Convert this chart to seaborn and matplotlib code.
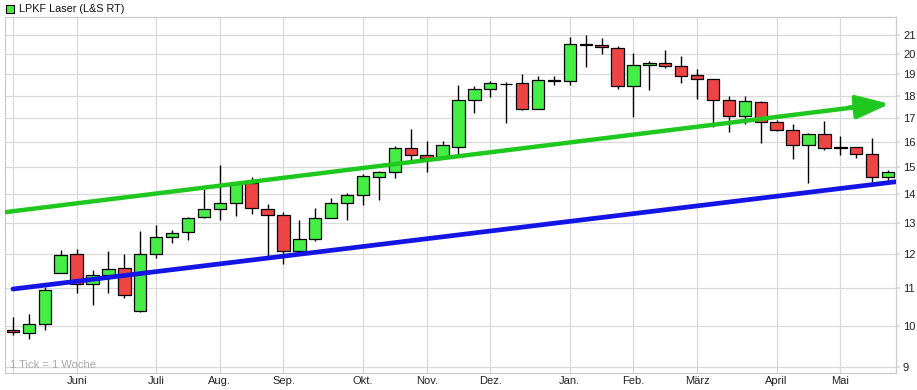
import matplotlib
matplotlib.use('Agg')
import matplotlib.pyplot as plt
import matplotlib.ticker as mticker
import seaborn as sns
import pandas as pd

# weekly OHLC, LPKF Laser (L&S RT)
opens = [9.90, 9.82, 10.05, 11.45, 12.00, 11.12, 11.39, 11.59, 10.37, 12.00,
         12.53, 12.70, 13.20, 13.47, 13.68, 14.41, 13.47, 13.27, 12.10, 12.48,
         13.18, 13.68, 13.95, 14.63, 14.79, 15.74, 15.46, 15.39, 15.80, 17.80,
         18.30, 18.53, 18.58, 17.41, 18.69, 18.67, 20.56, 20.50, 20.30, 18.43,
         19.47, 19.56, 19.42, 18.95, 18.77, 17.80, 17.08, 17.70, 16.82, 16.47,
         15.86, 16.33, 15.77, 15.78, 15.50, 14.63]
highs = [10.21, 10.31, 11.04, 12.14, 12.16, 11.54, 12.09, 12.00, 12.75, 12.94,
         12.78, 13.20, 14.17, 15.06, 14.45, 14.63, 13.64, 13.38, 13.09, 13.50,
         13.84, 14.03, 14.72, 14.83, 15.82, 16.52, 16.04, 16.01, 18.50, 18.45,
         18.69, 18.63, 19.02, 18.93, 18.93, 20.91, 21.02, 20.83, 20.42, 20.09,
         19.68, 20.24, 19.90, 19.28, 18.80, 17.99, 18.00, 17.77, 16.93, 16.74,
         16.35, 16.85, 16.24, 15.80, 16.17, 14.88]
lows = [9.76, 9.66, 9.90, 11.43, 10.86, 10.54, 10.86, 10.72, 10.35, 11.90,
        12.35, 12.45, 13.18, 13.09, 13.22, 13.31, 11.93, 11.71, 12.08, 12.41,
        13.15, 13.10, 13.61, 13.79, 14.59, 15.26, 14.82, 15.37, 15.48, 17.22,
        17.95, 16.78, 17.33, 17.40, 18.47, 18.50, 19.35, 20.00, 18.30, 17.05,
        18.27, 19.30, 18.58, 17.86, 16.63, 16.41, 16.72, 15.95, 16.45, 15.32,
        14.41, 15.66, 15.46, 15.34, 14.45, 14.48]
closes = [9.83, 10.05, 10.95, 11.98, 11.12, 11.39, 11.55, 10.82, 12.00, 12.53,
          12.67, 13.18, 13.47, 13.68, 14.41, 13.50, 13.27, 12.10, 12.48, 13.16,
          13.68, 13.95, 14.65, 14.79, 15.74, 15.46, 15.34, 15.86, 17.80, 18.30,
          18.58, 18.54, 17.41, 18.72, 18.71, 20.56, 20.46, 20.38, 18.43, 19.47,
          19.58, 19.42, 18.90, 18.77, 17.80, 17.08, 17.75, 16.82, 16.47, 15.86,
          16.33, 15.74, 15.75, 15.50, 14.63, 14.80]

month_pos = [4, 9, 13, 17, 22, 26, 30, 35, 39, 43, 48, 52]
month_labels = ['Juni', 'Juli', 'Aug.', 'Sep.', 'Okt.', 'Nov.', 'Dez.', 'Jan.',
                'Feb.', 'März', 'April', 'Mai']
price_ticks = [9, 10, 11, 12, 13, 14, 15, 16, 17, 18, 19, 20, 21]

# hand drawn trend lines (week index, price)
green_trend_x = [-0.82, 53.5]
green_trend_y = [13.34, 17.52]
green_tip = (55.1, 17.62)
blue_trend_x = [0, 55.6]
blue_trend_y = [10.98, 14.45]

df = pd.DataFrame({'week': range(len(opens)), 'open': opens, 'high': highs,
                   'low': lows, 'close': closes})
df['up'] = df['close'] >= df['open']
df['bottom'] = df[['open', 'close']].min(axis=1)
df['height'] = (df['close'] - df['open']).abs().clip(lower=0.01)

sns.set_theme(style='white')
plt.rcParams['font.family'] = ['Liberation Sans', 'DejaVu Sans']

fig = plt.figure(figsize=(9.17, 3.9), dpi=100)
ax = fig.add_axes([5 / 917, 0.0436, 891 / 917, 0.9128])

ax.set_yscale('log')
ax.set_ylim(8.86, 22.0)
ax.set_xlim(-0.5, 55.5)

grid_c = '#d9d9d9'
for p in price_ticks:
    ax.axhline(p, color=grid_c, lw=0.9, zorder=0)
for m in [0] + month_pos:
    ax.axvline(m, color=grid_c, lw=0.9, zorder=0)

# wicks
ax.vlines(df['week'], df['low'], df['high'], color='black', lw=1.0, zorder=2)
# bodies
colors = ['#44ee44' if u else '#ee4444' for u in df['up']]
ax.bar(df['week'], df['height'], bottom=df['bottom'], width=0.78,
       color=colors, edgecolor='black', linewidth=0.9, zorder=3)

# trend lines
sns.lineplot(x=blue_trend_x, y=blue_trend_y, color='#1414e6', lw=3.4, ax=ax,
             zorder=4)
sns.lineplot(x=green_trend_x, y=green_trend_y, color='#1ec81e', lw=3.2, ax=ax,
             zorder=4)
ax.annotate('', xy=green_tip, xytext=(green_trend_x[1] - 1, 17.45),
            arrowprops=dict(arrowstyle='-|>,head_length=1.7,head_width=0.6',
                            color='#1ec81e', lw=3.2, shrinkA=0, shrinkB=0),
            zorder=5)

ax.yaxis.tick_right()
ax.set_yticks(price_ticks)
ax.yaxis.set_major_formatter(mticker.FuncFormatter(lambda v, _: f'{v:g}'))
ax.yaxis.set_minor_locator(mticker.NullLocator())
ax.set_xticks(month_pos)
ax.set_xticklabels(month_labels)
ax.tick_params(axis='x', length=0, pad=2, labelsize=8, colors='#222222')
ax.tick_params(axis='y', length=3, pad=2, labelsize=8, colors='#222222',
               which='major')
ax.tick_params(axis='y', color=grid_c)
ax.set_xlabel('')
ax.set_ylabel('')
for s in ax.spines.values():
    s.set_color('#cccccc')
    s.set_linewidth(0.9)

ax.text(0.006, 0.022, '1 Tick = 1 Woche', transform=ax.transAxes,
        fontsize=8, color='#a8a8a8', va='center', ha='left')

# header with legend square
fig.patches.append(plt.Rectangle((6 / 917, 1 - 13 / 390), 8 / 917, 8 / 390,
                                 transform=fig.transFigure, facecolor='#44ee44',
                                 edgecolor='black', linewidth=0.8))
fig.text(19 / 917, 1 - 9 / 390, 'LPKF Laser (L&S RT)', fontsize=7.8,
         va='center', ha='left', color='#111111')

fig.savefig('out.png', dpi=100)
